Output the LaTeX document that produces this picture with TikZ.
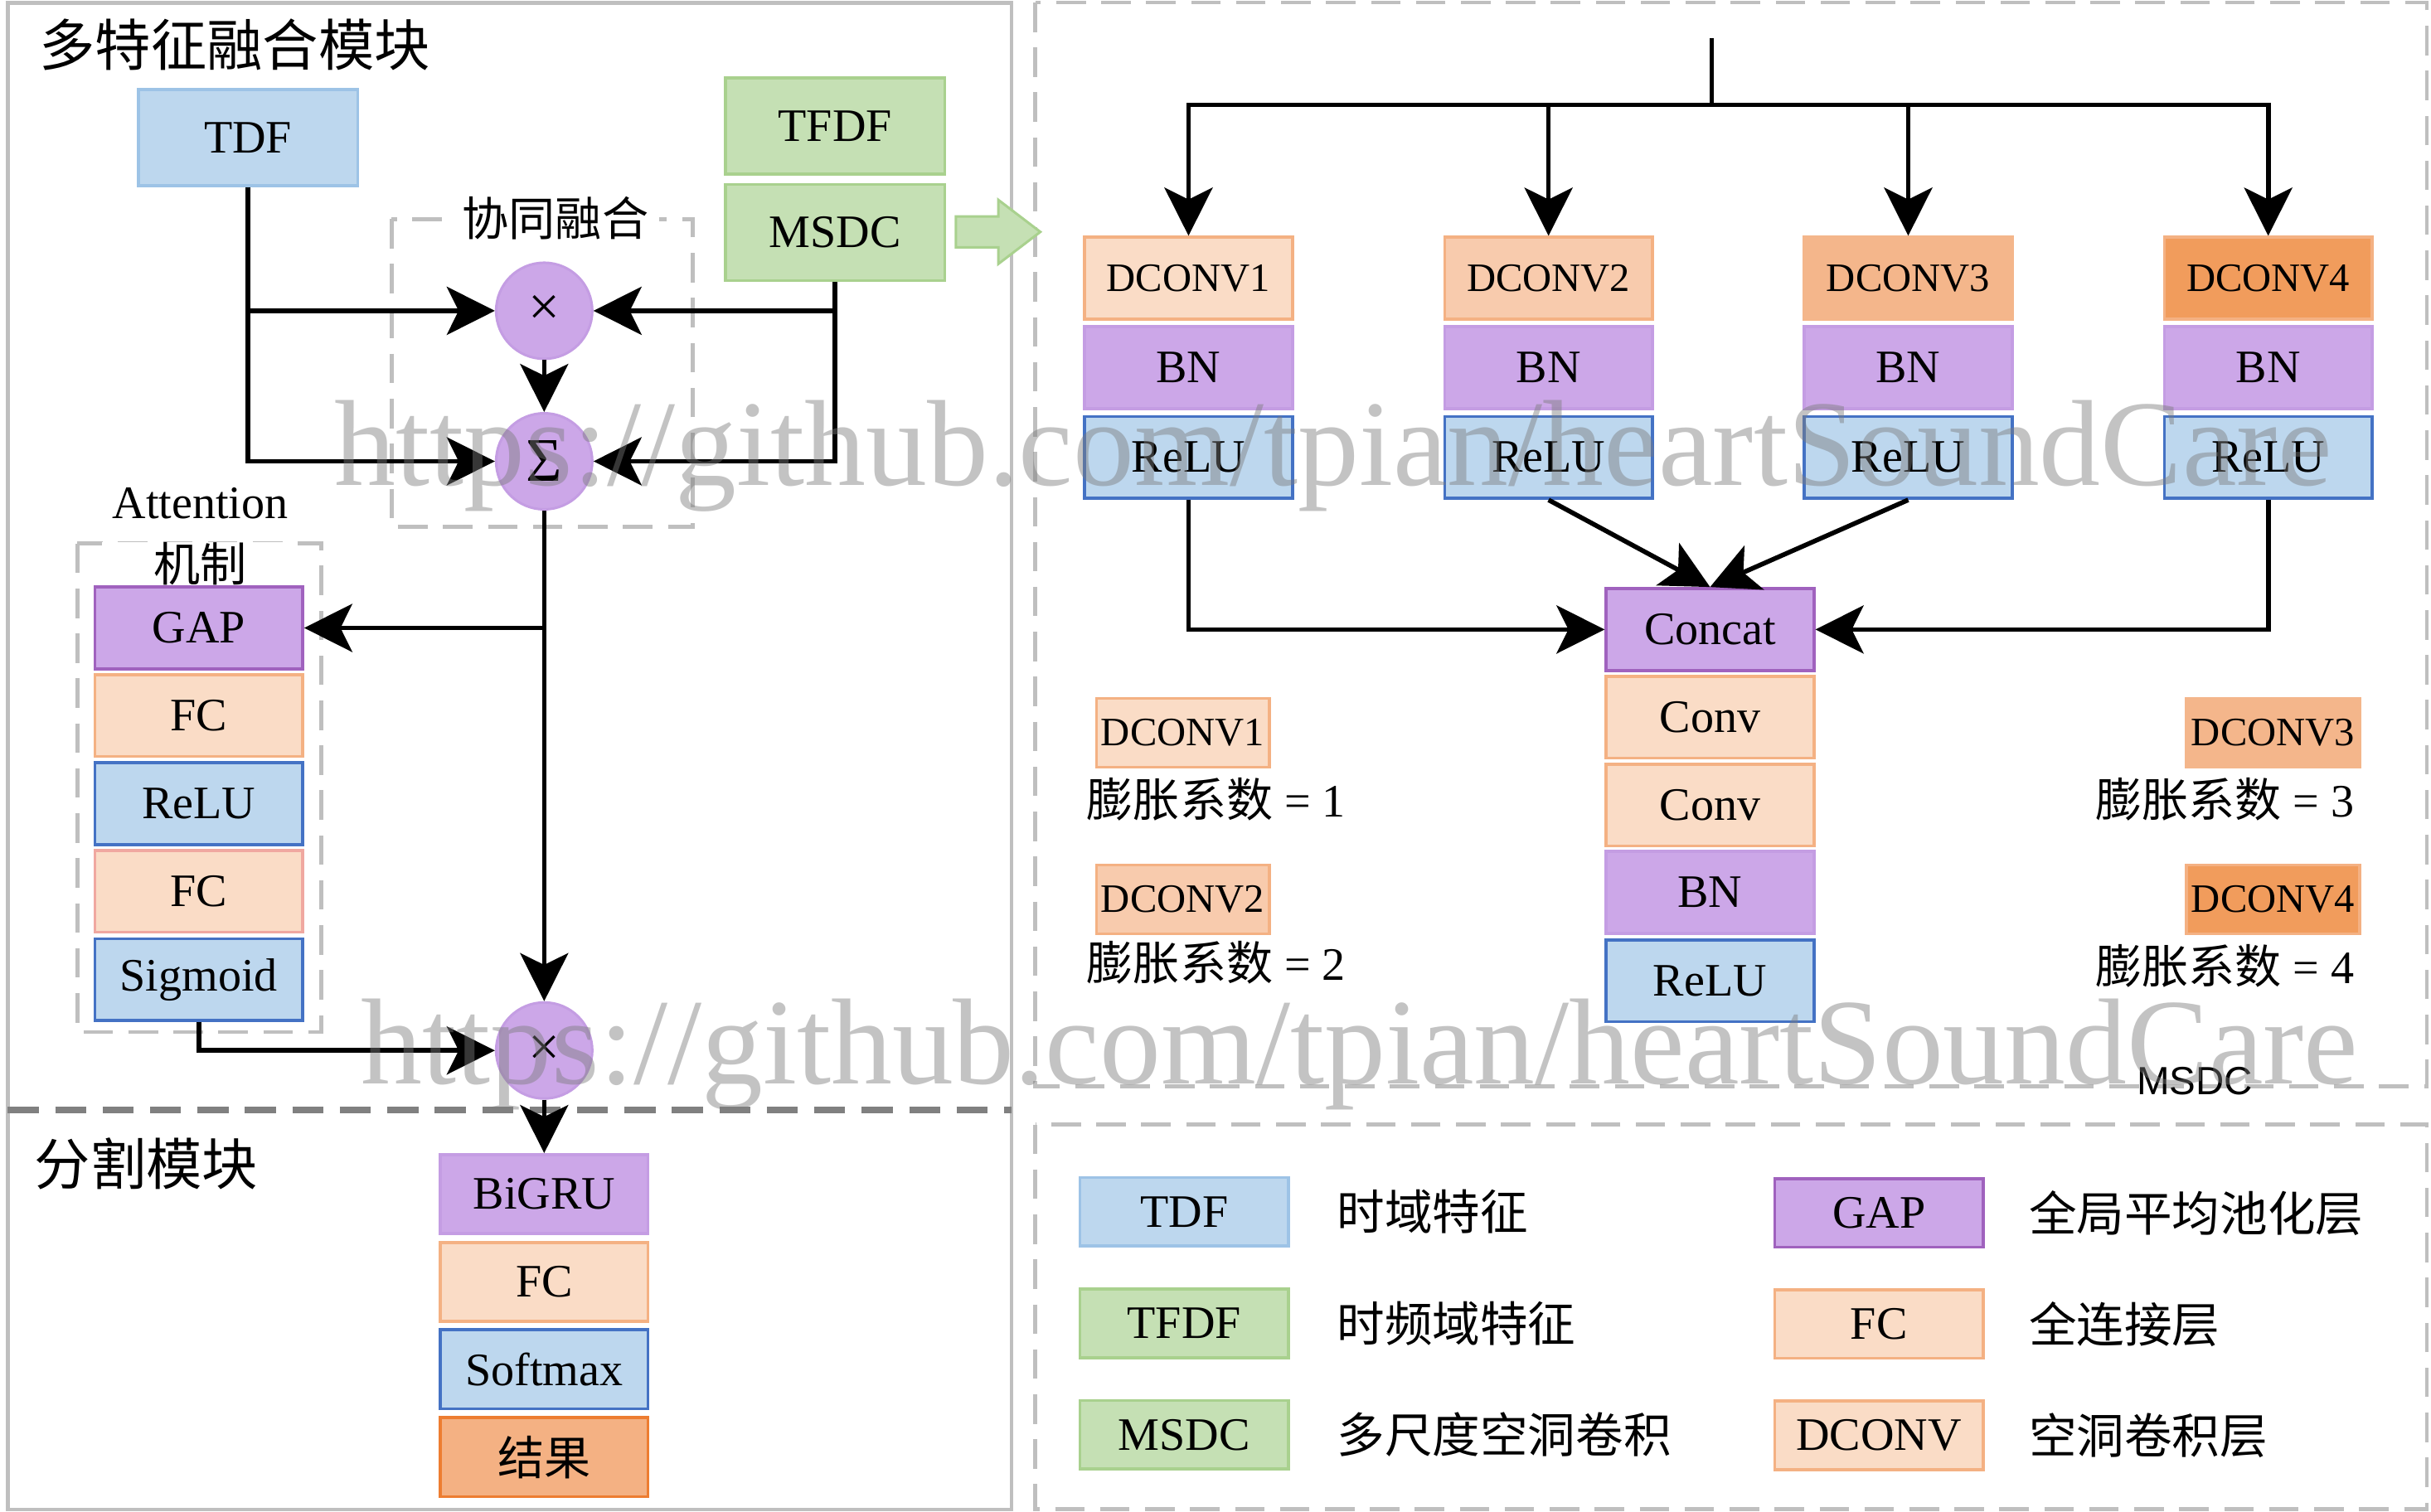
\documentclass[tikz,border=0pt]{standalone}
\usepackage{fontspec}
\setmainfont{Liberation Serif}
\newfontfamily\cjk{Noto Sans CJK SC}
\newfontfamily\sansf{Liberation Sans}
\usetikzlibrary{arrows.meta}
\definecolor{bluF}{HTML}{BDD7EE}
\definecolor{bluD}{HTML}{4472C4}
\definecolor{bluL}{HTML}{9DC3E6}
\definecolor{grnF}{HTML}{C5E0B4}
\definecolor{grnD}{HTML}{A9D18E}
\definecolor{purF}{HTML}{CCA7E8}
\definecolor{purL}{HTML}{C49DE3}
\definecolor{purD}{HTML}{A062BE}
\definecolor{pchF}{HTML}{FADCC6}
\definecolor{pchD}{HTML}{F4B183}
\definecolor{pinkD}{HTML}{F0A8A0}
\definecolor{dcbF}{HTML}{F8CBAD}
\definecolor{dccF}{HTML}{F4B68B}
\definecolor{dcdF}{HTML}{F19C5C}
\definecolor{resF}{HTML}{F4B183}
\definecolor{resD}{HTML}{ED7D31}
\definecolor{frameG}{HTML}{BFBFBF}
\definecolor{divG}{HTML}{808080}
\definecolor{wmG}{HTML}{7C7C7C}
\newcommand{\fsA}{\fontsize{15pt}{18pt}\selectfont}
\newcommand{\fsD}{\fontsize{13pt}{15pt}\selectfont}
\newcommand{\fsC}{\cjk\fontsize{15pt}{17pt}\selectfont}
\newcommand{\fsL}{\cjk\fontsize{15.4pt}{17pt}\selectfont}
\begin{document}
\begin{tikzpicture}[x=0.5pt,y=-0.5pt,
  arr/.style={line width=1.5pt,-{Stealth[length=15.5pt,width=15.5pt,inset=3.8pt]}},
  ln/.style={line width=1.5pt},
  bx/.style={draw,line width=1pt,inner sep=0pt,minimum width=67pt,minimum height=26.4pt,font=\fsA},
  blu/.style={bx,fill=bluF,draw=bluD},
  bluL/.style={bx,fill=bluF,draw=bluL},
  grn/.style={bx,fill=grnF,draw=grnD},
  pur/.style={bx,fill=purF,draw=purL},
  purK/.style={bx,fill=purF,draw=purD},
  pch/.style={bx,fill=pchF,draw=pchD},
  big/.style={minimum width=70.8pt,minimum height=31pt},
  circ/.style={circle,fill=purF,draw=purL,line width=0.8pt,minimum size=31pt,inner sep=0pt},
  dsh/.style={draw=frameG,line width=1.3pt,dash pattern=on 9.5pt off 5pt},
  smallbx/.style={minimum width=55.7pt,minimum height=22.2pt,font=\fsD},
  legbx/.style={minimum width=67.2pt,minimum height=22.1pt},
  legtx/.style={anchor=west,inner sep=0pt,font=\fsL},
  wm/.style={anchor=base west,inner sep=0pt,font=\fontsize{39.5pt}{40pt}\selectfont,text=wmG,text opacity=0.45}
]
\useasboundingbox (0,0) rectangle (1568,975.4);
\fill[white] (0,0) rectangle (1568,975.4);

% ---------- panels ----------
\draw[frameG,line width=1.2pt] (5,1.9) rectangle (652.5,973.8);
\draw[divG,line width=2pt,dash pattern=on 10pt off 5.3pt] (5,716) -- (652.5,716);
\draw[dsh] (667.7,1.6) rectangle (1565.3,700.8);
\draw[dsh] (667.7,725.5) rectangle (1565.3,973.6);

\node[anchor=west,inner sep=0pt,font=\cjk\fontsize{18pt}{20pt}\selectfont] (title1) at (25,29) {多特征融合模块};
\node[anchor=west,inner sep=0pt,font=\cjk\fontsize{18pt}{20pt}\selectfont] (title2) at (22,751) {分割模块};

% ---------- fusion module ----------
\node[bluL,big] (tdf) at (160,88.8) {TDF};
\node[grn,big] (tfdf) at (538.6,81.4) {TFDF};
\node[grn,big] (msdc) at (538.6,150) {MSDC};
\filldraw[fill=grnF,draw=grnD,line width=0.8pt] (616.6,139.7) -- (644,139.7) -- (644,129) -- (671,149.6) -- (644,170.2) -- (644,159.5) -- (616.6,159.5) -- cycle;

\draw[dsh] (252.5,141.3) rectangle (447,340);
\node[fill=white,inner xsep=3.5pt,inner ysep=1pt,font=\fsC] (fusl) at (358.3,140.8) {协同融合};

\node[circ,font=\fontsize{18pt}{20pt}\selectfont] (m1) at (351,200.5) {×};
\node[circ,font=\fontsize{20pt}{22pt}\selectfont] (s1) at (351,297.6) {Σ};
\node[circ,font=\fontsize{18pt}{20pt}\selectfont] (m2) at (351,677.7) {×};

\draw[dsh] (50,350.7) rectangle (207,665.8);
\node[fill=white,minimum width=63pt,inner sep=1pt,font=\fsA] (att1) at (129.2,324.7) {Attention};
\node[fill=white,minimum width=63pt,inner xsep=1pt,inner ysep=0pt,font=\fsC] (att2) at (129,363.8) {机制};

\node[purK] (gap) at (128.2,405.1) {GAP};
\node[pch] (fca) at (128.2,461.6) {FC};
\node[blu] (relua) at (128.2,518.5) {ReLU};
\node[pch,draw=pinkD] (fcb) at (128.2,575) {FC};
\node[blu] (sig) at (128.2,632) {Sigmoid};

\node[pur,minimum height=25.5pt] (bigru) at (351,770.4) {BiGRU};
\node[pch,minimum height=25.5pt] (fcs) at (351,827) {FC};
\node[blu,minimum height=25.5pt] (soft) at (351,883.3) {Softmax};
\node[bx,fill=resF,draw=resD,minimum height=25.5pt,font=\fsC] (res) at (351,940.1) {结果};

\draw[arr] (tdf.south) |- (s1.west);
\draw[arr] (tdf.south |- m1.west) -- (m1.west);
\draw[arr] (msdc.south) |- (s1.east);
\draw[arr] (msdc.south |- m1.east) -- (m1.east);
\draw[arr] (m1.south) -- (s1.north);
\draw[arr] (s1.south) -- (m2.north);
\draw[arr] (s1.south |- gap.east) -- (gap.east);
\draw[arr] (sig.south) |- (m2.west);
\draw[arr] (m2.south) -- (bigru.north);

% ---------- MSDC panel ----------
\coordinate (in) at (1104,24.6);
\coordinate (split) at (1104,67.7);

\node[pch,font=\fsD] (d1) at (766.6,179.5) {DCONV1};
\node[bx,fill=dcbF,draw=pchD,font=\fsD] (d2) at (998.8,179.5) {DCONV2};
\node[bx,fill=dccF,draw=dccF,font=\fsD] (d3) at (1230.8,179.5) {DCONV3};
\node[bx,fill=dcdF,draw=pchD,font=\fsD] (d4) at (1463,179.5) {DCONV4};
\node[pur] (b1) at (766.6,237.2) {BN};
\node[pur] (b2) at (998.8,237.2) {BN};
\node[pur] (b3) at (1230.8,237.2) {BN};
\node[pur] (b4) at (1463,237.2) {BN};
\node[blu] (r1) at (766.6,295.1) {ReLU};
\node[blu] (r2) at (998.8,295.1) {ReLU};
\node[blu] (r3) at (1230.8,295.1) {ReLU};
\node[blu] (r4) at (1463,295.1) {ReLU};

\node[purK] (cc) at (1103,406.1) {Concat};
\node[pch] (cv1) at (1103,462.6) {Conv};
\node[pch] (cv2) at (1103,519.3) {Conv};
\node[pur] (bnc) at (1103,575.8) {BN};
\node[blu] (rlc) at (1103,632.7) {ReLU};

\draw[ln] (in) -- (split);
\draw[arr] (split) -| (d1.north);
\draw[arr] (split) -| (d2.north);
\draw[arr] (split) -| (d3.north);
\draw[arr] (split) -| (d4.north);
\draw[arr] (r1.south) |- (cc.west);
\draw[arr] (r4.south) |- (cc.east);
\draw[arr] (r2.south) -- (cc.north);
\draw[arr] (r3.south) -- (cc.north);

\node[pch,smallbx] (sd1) at (762.9,472.7) {DCONV1};
\node[bx,fill=dcbF,draw=pchD,smallbx] (sd2) at (762.9,580.2) {DCONV2};
\node[bx,fill=dccF,draw=dccF,smallbx] (sd3) at (1466.1,472.7) {DCONV3};
\node[bx,fill=dcdF,draw=pchD,smallbx] (sd4) at (1466.1,580.2) {DCONV4};
\node[anchor=west,inner sep=0pt,font=\fsA] (k1) at (700.6,515.5) {{\fsC 膨胀系数} = 1};
\node[anchor=west,inner sep=0pt,font=\fsA] (k2) at (700.6,621) {{\fsC 膨胀系数} = 2};
\node[anchor=east,inner sep=0pt,font=\fsA] (k3) at (1519,515.5) {{\fsC 膨胀系数} = 3};
\node[anchor=east,inner sep=0pt,font=\fsA] (k4) at (1519,623.4) {{\fsC 膨胀系数} = 4};

\node[inner sep=0pt,font=\sansf\fontsize{12.7pt}{14pt}\selectfont] (msdcl) at (1415.6,697.4) {MSDC};

% ---------- legend ----------
\node[bluL,legbx] (l1) at (763.8,781.8) {TDF};
\node[grn,legbx] (l2) at (763.8,853.7) {TFDF};
\node[grn,legbx] (l3) at (763.8,925.6) {MSDC};
\node[purK,legbx] (l4) at (1211.9,782.5) {GAP};
\node[pch,legbx] (l5) at (1211.9,854.2) {FC};
\node[pch,legbx] (l6) at (1211.9,926) {DCONV};
\node[legtx] (lt1) at (862,781.8) {时域特征};
\node[legtx] (lt2) at (862,853.7) {时频域特征};
\node[legtx] (lt3) at (862,925.6) {多尺度空洞卷积};
\node[legtx] (lt4) at (1308.3,782.5) {全局平均池化层};
\node[legtx] (lt5) at (1308.3,854.2) {全连接层};
\node[legtx] (lt6) at (1308.3,926) {空洞卷积层};

% ---------- watermark ----------
\node[wm] (wm1) at (215.6,313) {https://github.com/tpian/heartSoundCare};
\node[wm] (wm2) at (232.6,699) {https://github.com/tpian/heartSoundCare};
\end{tikzpicture}
\end{document}
